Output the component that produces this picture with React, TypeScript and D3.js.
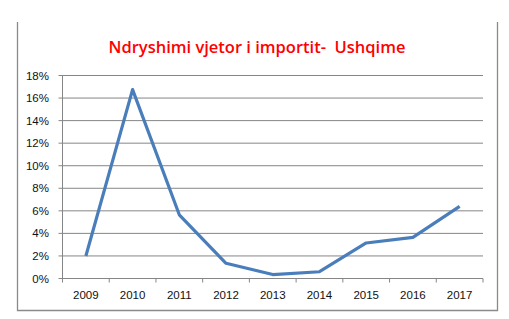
import React from "react";
import * as d3 from "d3";

const years = ["2009", "2010", "2011", "2012", "2013", "2014", "2015", "2016", "2017"];
const changePct = [2.0, 16.75, 5.65, 1.35, 0.35, 0.6, 3.15, 3.65, 6.4];
const yTicks = [0, 2, 4, 6, 8, 10, 12, 14, 16, 18];
const title = "Ndryshimi vjetor i importit-  Ushqime";

const W = 509;
const H = 319;
const plot = { left: 62.5, right: 483, top: 75.5, bottom: 278.5 };
const axisFont = "Arial, 'Liberation Sans', sans-serif";

export default function App() {
  const x = d3.scaleBand<string>().domain(years).range([plot.left, plot.right]);
  const y = d3.scaleLinear().domain([0, 18]).range([plot.bottom, plot.top]);
  const line = d3
    .line<number>()
    .x((_, i) => (x(years[i]) ?? 0) + x.bandwidth() / 2)
    .y((d) => y(d));

  const grid = "#868686";
  const tickEdges = years.map((yr) => x(yr) ?? 0).concat([plot.right]);

  return (
    <svg
      width={W}
      height={H}
      style={{ position: "absolute", left: 0, top: 0, background: "#fff" }}
    >
      {/* chart frame */}
      <path d="M17.5,22 V310.5 H497.5 V22" fill="none" stroke="#8a8a8a" strokeWidth={1.3} />

      <text
        x={257}
        y={53}
        textAnchor="middle"
        fill="#ff0000"
        fontFamily="'Open Sans', 'Liberation Sans', sans-serif"
        fontSize={16.5}
        fontWeight={600}
        style={{ whiteSpace: "pre" }}
      >
        {title}
      </text>

      {/* horizontal gridlines and y labels */}
      {yTicks.map((t) => (
        <g key={t}>
          <line x1={plot.left - 4} x2={plot.right} y1={y(t)} y2={y(t)} stroke={grid} strokeWidth={1} />
          <text
            x={49}
            y={y(t) + 4}
            textAnchor="end"
            fontFamily={axisFont}
            fontSize={11.5}
            fill="#111"
          >
            {t}%
          </text>
        </g>
      ))}

      {/* y axis */}
      <line x1={plot.left} x2={plot.left} y1={plot.top} y2={plot.bottom} stroke={grid} strokeWidth={1} />

      {/* x tick marks */}
      {tickEdges.map((xe, i) => (
        <line key={i} x1={xe} x2={xe} y1={plot.bottom} y2={plot.bottom + 4} stroke={grid} strokeWidth={1} />
      ))}

      {years.map((yr) => (
        <text
          key={yr}
          x={(x(yr) ?? 0) + x.bandwidth() / 2}
          y={298.5}
          textAnchor="middle"
          fontFamily={axisFont}
          fontSize={11.5}
          fill="#111"
        >
          {yr}
        </text>
      ))}

      <path
        d={line(changePct) ?? ""}
        fill="none"
        stroke="#4a7ebb"
        strokeWidth={3.2}
        strokeLinejoin="round"
      />
    </svg>
  );
}
